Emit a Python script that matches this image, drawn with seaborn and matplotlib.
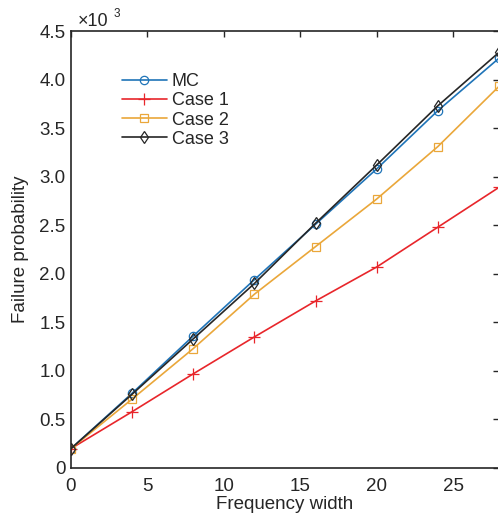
import matplotlib
matplotlib.use("Agg")
import matplotlib.pyplot as plt
import seaborn as sns
import numpy as np

sns.set_style("white")
plt.rcParams['font.family'] = ['Liberation Sans', 'DejaVu Sans']

freq = [0, 4, 8, 12, 16, 20, 24, 28]
mc = [0.20, 0.77, 1.36, 1.94, 2.51, 3.08, 3.68, 4.22]
case1 = [0.20, 0.58, 0.97, 1.35, 1.72, 2.07, 2.48, 2.89]
case2 = [0.20, 0.71, 1.23, 1.79, 2.28, 2.77, 3.31, 3.93]
case3 = [0.20, 0.76, 1.33, 1.90, 2.52, 3.12, 3.73, 4.28]

x_ticks = [0, 5, 10, 15, 20, 25]
y_ticks = [0, 0.5, 1.0, 1.5, 2.0, 2.5, 3.0, 3.5, 4.0, 4.5]
y_tick_labels = ["0", "0.5", "1.0", "1.5", "2.0", "2.5", "3.0", "3.5", "4.0", "4.5"]

fig = plt.figure(figsize=(4.98, 5.15), dpi=100)
ax = fig.add_axes([71/498, 47/515, 428/498, 437/515])

series = [
    ("MC", mc, "#1f74b8", "o", 6),
    ("Case 1", case1, "#e8262b", "+", 8),
    ("Case 2", case2, "#eaa73a", "s", 6),
    ("Case 3", case3, "#262626", "d", 6),
]
for name, vals, col, mk, ms in series:
    sns.lineplot(x=freq, y=vals, ax=ax, color=col, marker=mk, markersize=ms,
                 markerfacecolor="none", markeredgecolor=col, markeredgewidth=0.9,
                 linewidth=1.2, label=name)

ax.set_xlim(0, 28)
ax.set_ylim(0, 4.5)
ax.set_xticks(x_ticks)
ax.set_xticklabels([str(t) for t in x_ticks])
ax.set_yticks(y_ticks)
ax.set_yticklabels(y_tick_labels)
ax.tick_params(direction="in", top=True, right=True, length=4, width=1,
               labelsize=13.5, colors="#262626")
ax.tick_params(axis="x", pad=7)
ax.tick_params(axis="y", pad=4)
for s in ax.spines.values():
    s.set_color("#262626")
    s.set_linewidth(1.2)
ax.grid(False)

ax.set_xlabel("Frequency width", fontsize=13.5, color="#262626", labelpad=1)
ax.set_ylabel("Failure probability", fontsize=13.5, color="#262626", labelpad=7)

fig.text(78/498, 1 - 22/515, "×10", fontsize=13, color="#262626", va="center", ha="left")
fig.text(114/498, 1 - 14/515, "3", fontsize=8.5, color="#262626", va="center", ha="left")

leg = ax.legend(loc="upper left", bbox_to_anchor=(0.102, 0.92), frameon=False,
                fontsize=13, handlelength=2.5, handletextpad=0.25, labelspacing=0.12,
                borderaxespad=0, numpoints=1)
for t in leg.get_texts():
    t.set_color("#262626")

fig.savefig("out.png", dpi=100)
